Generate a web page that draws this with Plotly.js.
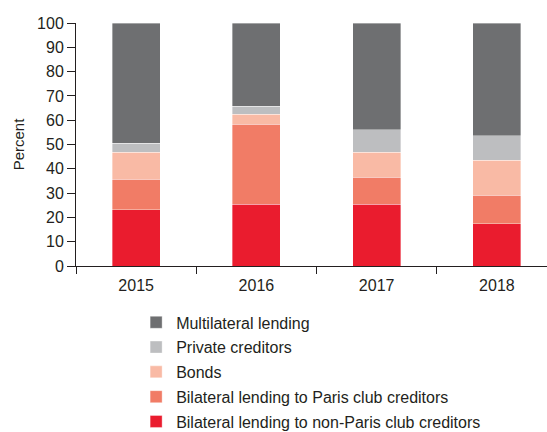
<!DOCTYPE html>
<html>
<head>
<meta charset="utf-8">
<script src="https://cdn.plot.ly/plotly-3.0.1.min.js"></script>
<style>
html,body{margin:0;padding:0;overflow:hidden;background:#fff;}
#chart{width:560px;height:432px;}
</style>
</head>
<body>
<div id="chart"></div>
<script>
const years = ["2015", "2016", "2017", "2018"];
const nonParis = [23.2, 25.4, 25.4, 17.4];
const paris = [12.6, 33.0, 11.1, 11.7];
const bonds = [11.0, 4.0, 10.4, 14.4];
const privateCred = [3.7, 3.4, 9.2, 10.1];
const multilateral = [49.5, 34.2, 43.9, 46.4];
const yTicks = [0, 10, 20, 30, 40, 50, 60, 70, 80, 90, 100];

const seriesDefs = [
  {name: "Bilateral lending to non-Paris club creditors", y: nonParis, color: "#ea1c2e"},
  {name: "Bilateral lending to Paris club creditors", y: paris, color: "#f17c66"},
  {name: "Bonds", y: bonds, color: "#f9baa5"},
  {name: "Private creditors", y: privateCred, color: "#bdbec0"},
  {name: "Multilateral lending", y: multilateral, color: "#6e6f71"}
];

const traces = seriesDefs.map((s, i) => ({
  type: "bar",
  x: years,
  y: s.y,
  name: s.name,
  legendgroup: "g" + i,
  legendrank: 1000 - i * 10,
  width: 0.4,
  marker: {color: s.color, line: {color: "rgba(255,255,255,0.6)", width: 0.6}},
  hoverinfo: "skip"
}));

const layout = {
  width: 560,
  height: 432,
  margin: {l: 76, r: 3, t: 23, b: 166, autoexpand: false},
  barmode: "stack",
  paper_bgcolor: "#fff",
  plot_bgcolor: "#fff",
  font: {family: "Liberation Sans, Arial, sans-serif", size: 16, color: "#231f20"},
  showlegend: true,
  legend: {
    x: 0.125, xanchor: "left",
    y: -0.162, yanchor: "top",
    traceorder: "grouped",
    tracegroupgap: 1,
    font: {size: 16, color: "#231f20"},
    bgcolor: "rgba(0,0,0,0)"
  },
  xaxis: {
    type: "category",
    tickson: "boundaries",
    ticks: "outside",
    ticklen: 7,
    tickcolor: "#231f20",
    showline: true,
    linecolor: "#231f20",
    linewidth: 1,
    showgrid: false,
    zeroline: false,
    range: [-0.5, 3.5],
    ticklabelstandoff: 5,
    tickfont: {size: 16}
  },
  yaxis: {
    range: [0, 100],
    tickvals: yTicks,
    ticks: "outside",
    ticklen: 8,
    tickcolor: "#231f20",
    showline: true,
    linecolor: "#231f20",
    linewidth: 1,
    showgrid: false,
    zeroline: false,
    tickfont: {size: 16},
    title: {text: "Percent", font: {size: 15}, standoff: 8}
  }
};

Plotly.newPlot("chart", traces, layout, {displayModeBar: false, staticPlot: true});
</script>
</body>
</html>
